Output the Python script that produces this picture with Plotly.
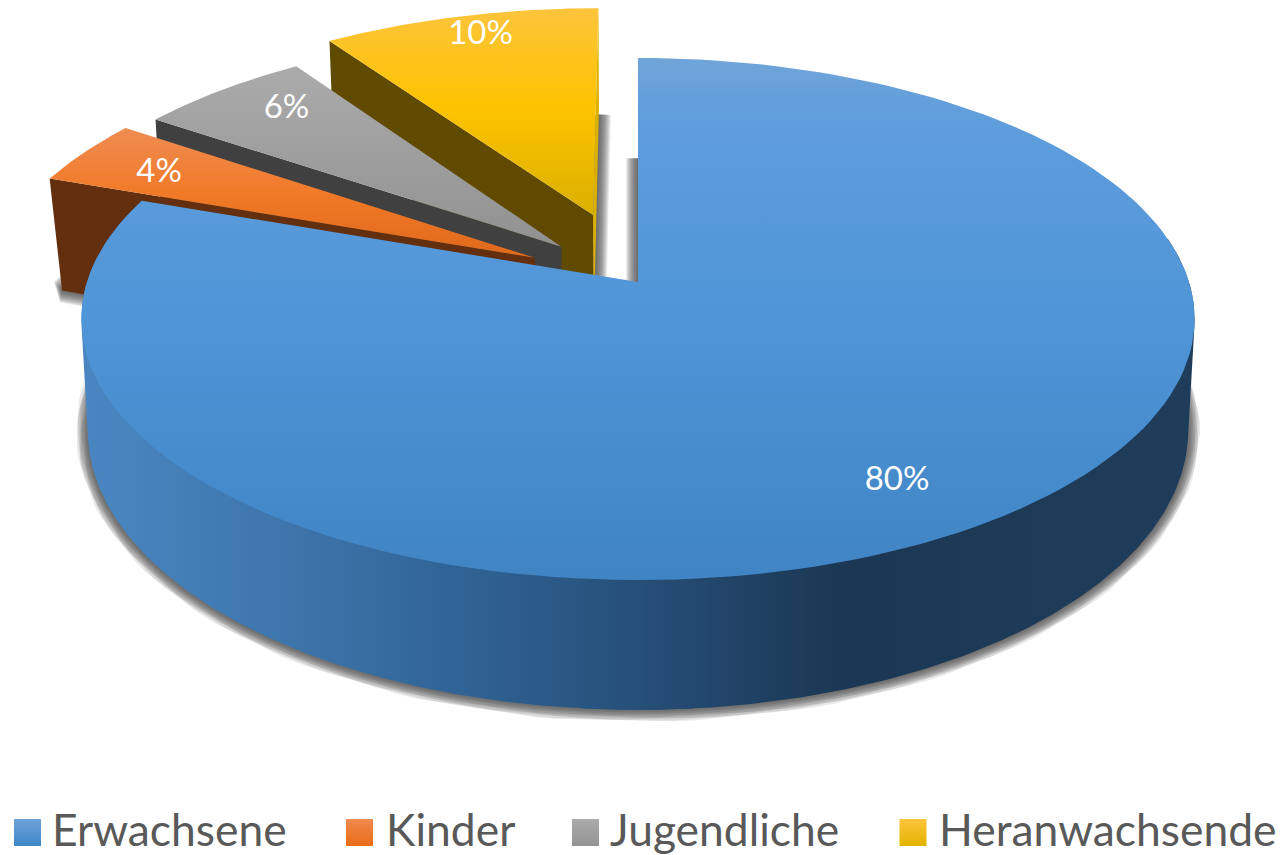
import numpy as np
import plotly.graph_objects as go

# ---- data -------------------------------------------------------------
categories = ["Erwachsene", "Kinder", "Jugendliche", "Heranwachsende"]
shares = [80.4, 4.1, 5.9, 9.6]

# ---- style / layout ----------------------------------------------------
explode = [0.0, 0.2126, 0.2, 0.285]
slice_radius = [1.0, 1.0, 0.992, 0.99]
bottom_drop = [0, 10, 10, 10]
bottom_scale = [1.0, 0.991, 1.0, 1.0]
label_r = [0.81, 0.826, 0.842, 0.897]
label_twist = [3.7, 0.0, 3.0, 1.3]
label_nudge = 4
top_scales = [
    [[0, "#70a5d9"], [0.12, "#5f9ddc"], [0.5, "#4f95d7"], [1, "#4084c4"]],
    [[0, "#ef8c52"], [0.5, "#f17a28"], [1, "#e0681a"]],
    [[0, "#ababab"], [1, "#919191"]],
    [[0, "#fcc43c"], [0.48, "#fdc300"], [1, "#dab000"]],
]
wall_colors = [None, "#632f0e", "#404040", "#604a00"]
legend_colors = [("#6ea3d8", "#3f86c8"), ("#f08a4e", "#ea6c17"),
                 ("#ababab", "#939393"), ("#fcc43c", "#e3b400")]
legend_marker_x = [27.5, 359.5, 585.5, 913]
legend_text_x = [52, 386, 610, 939]
legend_y = 832.5
legend_text_y = 835
TEXT = "#595959"
FONT = "Lato"
TOP = dict(k=0.1418, a=255.8, b=551.0, y0=282.0)
BOT = dict(k=0.1429, a=273.3, b=544.5, y0=391.0)
CX = 638.0
WALL_SCALE = [[0, "#4a87c2"], [0.2, "#3c74aa"], [0.35, "#2f6293"], [0.5, "#264f79"],
              [0.68, "#1b3753"], [1, "#1f3d5a"]]


def project(u, v, p, drop=0.0):
    w = 1 + p["k"] * v
    return CX + p["b"] * u / w, p["y0"] + drop - p["a"] * v / w


def hull(xs, ys):
    pts = sorted(set(zip(np.round(xs, 2).tolist(), np.round(ys, 2).tolist())))
    def half(seq):
        out = []
        for q in seq:
            while len(out) > 1 and ((out[-1][0]-out[-2][0])*(q[1]-out[-2][1])
                                    - (out[-1][1]-out[-2][1])*(q[0]-out[-2][0])) <= 0:
                out.pop()
            out.append(q)
        return out[:-1]
    h = half(pts) + half(pts[::-1])
    return [q[0] for q in h] + [h[0][0]], [q[1] for q in h] + [h[0][1]]


def poly(fig, x, y, color=None, scale=None, kind="vertical", start=None, stop=None):
    kw = dict(x=x, y=y, mode="lines", fill="toself", line=dict(width=0),
              hoverinfo="skip", showlegend=False)
    if scale is not None:
        kw["fillgradient"] = dict(type=kind, colorscale=scale, start=start, stop=stop)
    else:
        kw["fillcolor"] = color
    fig.add_trace(go.Scatter(**kw))


total = sum(shares)
edges = np.cumsum([0] + shares) / total * 360.0
slices = []
for i, name in enumerate(categories):
    a0, a1 = edges[i], edges[i + 1]
    mid = np.radians((a0 + a1) / 2)
    ou, ov = explode[i] * np.sin(mid), explode[i] * np.cos(mid)
    phi = np.radians(np.linspace(a0, a1, 160))
    ru = ou + slice_radius[i] * np.sin(phi)
    rv = ov + slice_radius[i] * np.cos(phi)
    slices.append(dict(ou=ou, ov=ov, ru=ru, rv=rv, a0=a0, a1=a1,
                       bot=dict(BOT, b=BOT["b"] * bottom_scale[i]), drop=bottom_drop[i]))

fig = go.Figure()

# ---- soft shadows under the solids --------------------------------------
s0, s1, s3 = slices[0], slices[1], slices[3]
shadow_paths = [
    # main slice: rim (from just past the back edge), apex, then up the cut edge
    (np.r_[s0["ru"][3:], 0, 0], np.r_[s0["rv"][3:], 0, 0.97], s0),
    # small orange wedge, closed outline
    (np.r_[s1["ou"], s1["ru"], s1["ou"]], np.r_[s1["ov"], s1["rv"], s1["ov"]], s1),
    # yellow wedge: only its right-hand cut edge shows
    (np.r_[s3["ou"], s3["ou"] + 0.97 * (s3["ru"][-1] - s3["ou"])],
     np.r_[s3["ov"], s3["ov"] + 0.97 * (s3["rv"][-1] - s3["ov"])], s3),
]
for width in range(24, 0, -2):
    for u, v, s in shadow_paths:
        x, y = project(u, v, s["bot"], s["drop"])
        fig.add_trace(go.Scatter(x=x, y=y, mode="lines", hoverinfo="skip", showlegend=False,
                                 line=dict(width=width, color="rgba(70,70,70,0.115)")))

# ---- exploded wedges: back to front -------------------------------------
for i in (3, 2, 1):
    s = slices[i]
    tx, ty = project(np.r_[s["ru"][0], s["ou"]], np.r_[s["rv"][0], s["ov"]], TOP)
    bx, by = project(np.r_[s["ou"], s["ru"][0]], np.r_[s["ov"], s["rv"][0]], s["bot"], s["drop"])
    poly(fig, np.r_[tx, bx, tx[0]], np.r_[ty, by, ty[0]], color=wall_colors[i])
    if i == 3:
        tx2, ty2 = project(np.r_[s["ou"], s["ru"][-1]], np.r_[s["ov"], s["rv"][-1]], TOP)
        bx2, by2 = project(np.r_[s["ru"][-1], s["ou"]], np.r_[s["rv"][-1], s["ov"]], s["bot"], s["drop"])
        poly(fig, np.r_[tx2, bx2, tx2[0]], np.r_[ty2, by2, ty2[0]], color="#dcb000")
    x, y = project(np.r_[s["ou"], s["ru"], s["ou"]], np.r_[s["ov"], s["rv"], s["ov"]], TOP)
    poly(fig, x, y, scale=top_scales[i], start=float(np.min(y)), stop=float(np.max(y)))

# ---- main slice ---------------------------------------------------------
s = slices[0]
for lo, hi in ((80, 185), (175, s["a1"])):
    front = np.radians(np.linspace(lo, hi, 200))
    xa, ya = project(np.sin(front), np.cos(front), TOP)
    xb, yb = project(np.sin(front), np.cos(front), BOT)
    wx, wy = hull(np.r_[xa, xb], np.r_[ya, yb])
    poly(fig, wx, wy, kind="horizontal", start=81, stop=1196, scale=WALL_SCALE)
x, y = project(np.r_[0, s["ru"], 0], np.r_[0, s["rv"], 0], TOP)
poly(fig, x, y, scale=top_scales[0], start=float(np.min(y)), stop=float(np.max(y)))

# ---- data labels --------------------------------------------------------
lx, ly, lt = [], [], []
for i, s in enumerate(slices):
    m = np.radians((s["a0"] + s["a1"]) / 2 + label_twist[i])
    px, py = project(s["ou"] + label_r[i] * np.sin(m), s["ov"] + label_r[i] * np.cos(m), TOP)
    lx.append(px); ly.append(py + label_nudge); lt.append(f"{round(shares[i])}%")
fig.add_trace(go.Scatter(x=lx, y=ly, text=lt, mode="text", textposition="middle center",
                         textfont=dict(family=FONT, size=33, color="white"),
                         hoverinfo="skip", showlegend=False))

# ---- legend row ---------------------------------------------------------
for i, name in enumerate(categories):
    fig.add_trace(go.Scatter(
        x=[legend_marker_x[i]], y=[legend_y], mode="markers", name=name, showlegend=False,
        hoverinfo="name",
        marker=dict(symbol="square", size=27, color=legend_colors[i][0], line=dict(width=0),
                    gradient=dict(type="vertical", color=legend_colors[i][1]))))
fig.add_trace(go.Scatter(x=legend_text_x, y=[legend_text_y] * 4, text=categories, mode="text",
                         textposition="middle right", hoverinfo="skip", showlegend=False,
                         textfont=dict(family=FONT, size=44.4, color=TEXT)))

fig.update_layout(
    width=1282, height=855, margin=dict(l=0, r=0, t=0, b=0), showlegend=False,
    paper_bgcolor="white", plot_bgcolor="white",
    xaxis=dict(visible=False, range=[0, 1282], fixedrange=True),
    yaxis=dict(visible=False, range=[855, 0], fixedrange=True),
)
fig.write_html("out.html", config=dict(displayModeBar=False),
               post_script="document.body.style.margin='0';document.body.style.overflow='hidden';")
